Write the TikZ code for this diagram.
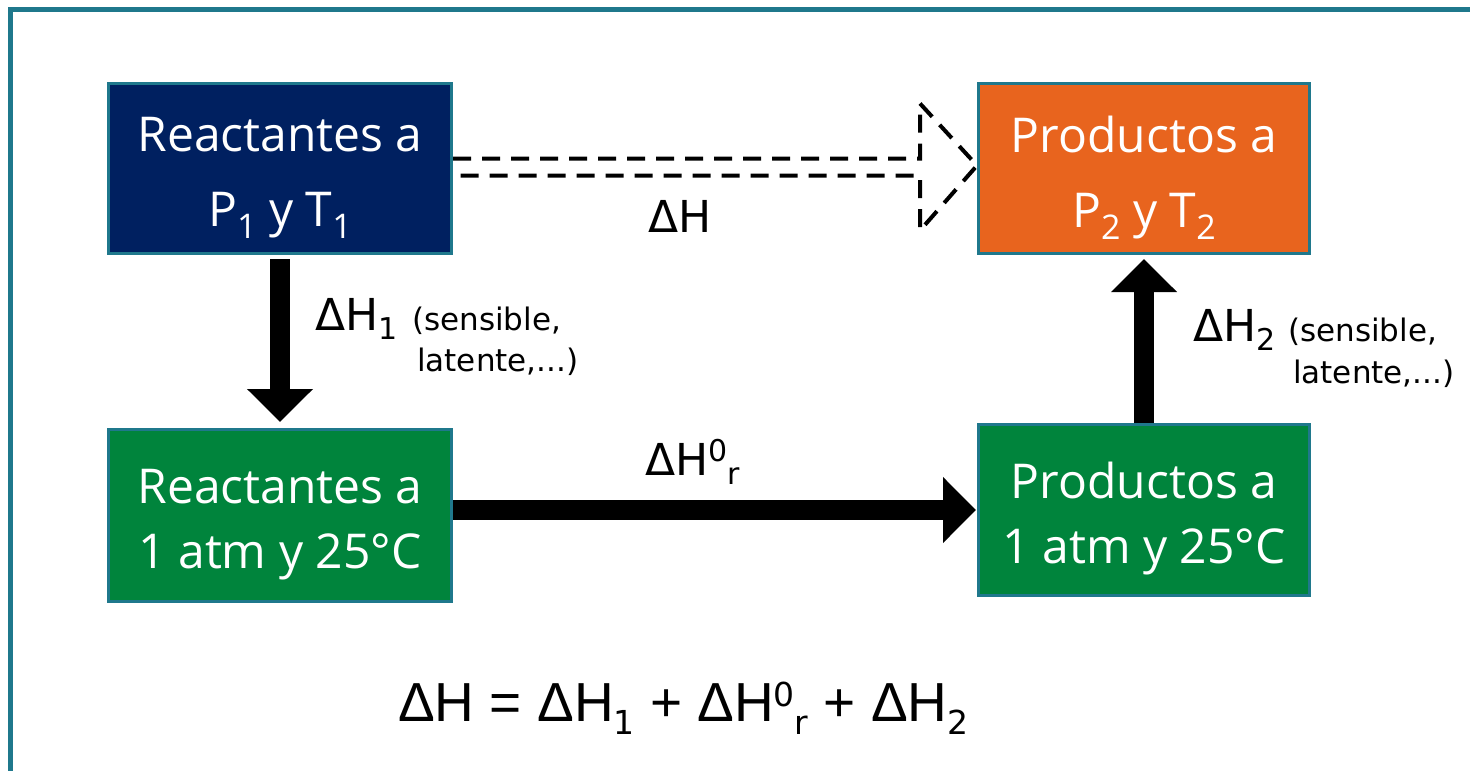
\documentclass[tikz,border=0pt]{standalone}
\usepackage{fontspec}
\setmainfont{DejaVu Sans}
\newfontfamily\boxfont{Open Sans}
\newfontfamily\eqfont{Liberation Sans}
\usetikzlibrary{arrows.meta,calc}
\definecolor{frameteal}{RGB}{31,120,140}
\definecolor{navybox}{RGB}{0,32,96}
\definecolor{orangebox}{RGB}{232,100,30}
\definecolor{greenbox}{RGB}{0,132,60}
\newcommand\shiftscript[3]{\raisebox{#1}{\fontsize{#2}{#2}\selectfont #3}}
\newcommand\eqscript[2]{\raisebox{#1}{\fontsize{33}{33}\selectfont\rmfamily #2}}
\begin{document}
\begin{tikzpicture}[x=1pt,y=-1pt,
  stagebox/.style={draw=frameteal, line width=3pt, inner sep=0pt},
  boxtext/.style={text=white, align=center, inner sep=0pt,
    font=\boxfont\fontsize{48}{65}\selectfont, yshift=-9pt},
  bigarrow/.style={draw=black, line width=20pt, -{Triangle[width=64pt,length=33pt]}},
  dasharrow/.style={draw=black, line width=4pt, dash pattern=on 18pt off 11pt},
  biglabel/.style={inner sep=0pt, font=\fontsize{44}{50}\selectfont},
  smalllabel/.style={inner sep=0pt, font=\fontsize{31}{36}\selectfont},
  eqlabel/.style={inner sep=0pt, font=\eqfont\fontsize{55}{60}\selectfont}
]
\useasboundingbox (0,0) rectangle (1470,771);
\clip (0,0) rectangle (1470,771);
\fill[white] (0,0) rectangle (1470,771);
\draw[frameteal, line width=5pt] (10.5,9.5) rectangle (1500,800);

\node[stagebox, fill=navybox, minimum width=343pt, minimum height=170pt,
  label={[boxtext]center:{Reactantes a\\[10pt]P\shiftscript{-12pt}{34}{1} y T\shiftscript{-12pt}{34}{1}}}]
  (r1) at (280,168.5) {};
\node[stagebox, fill=orangebox, minimum width=331pt, minimum height=170pt,
  label={[boxtext]center:{Productos a\\[10pt]P\shiftscript{-12pt}{34}{2} y T\shiftscript{-12pt}{34}{2}}}]
  (p2) at (1144,168.5) {};
\node[stagebox, fill=greenbox, minimum width=343pt, minimum height=172pt,
  label={[boxtext]center:{Reactantes a\\1 atm y 25°C}}]
  (r3) at (280,515.5) {};
\node[stagebox, fill=greenbox, minimum width=331pt, minimum height=171pt,
  label={[boxtext]center:{Productos a\\1 atm y 25°C}}]
  (r4) at (1144,510) {};

% dashed hollow arrow
\coordinate (dtop) at ($(r1.east)+(0,-10)$);
\coordinate (dbot) at ($(r1.east)+(0,7)$);
\draw[dasharrow] (dtop) -- ($(p2.west)+(-57,-10)$) -- ($(p2.west)+(-57,-65)$) -- ($(p2.west)+(0,-3)$)
  -- ($(p2.west)+(-57,62)$) -- ($(p2.west)+(-57,7)$) -- (dbot);

\draw[bigarrow, shorten <=4pt, shorten >=6pt] (r1) -- (r3);
\draw[bigarrow, shorten >=1pt] (r3.east |- r4) -- (r4.west);
\draw[bigarrow, shorten >=4pt] (r4) -- (p2);

\node[biglabel, anchor=base] (dh) at (680,232) {ΔH};
\node[biglabel, anchor=base west] (dh0) at (645,475) {ΔH\shiftscript{14pt}{30}{0}\shiftscript{-9pt}{30}{r}};

\node[biglabel, anchor=base west] (dh1) at (315,330) {ΔH\shiftscript{-9pt}{30}{1}};
\node[smalllabel, anchor=base west] (dh1a) at (412,330) {(sensible,};
\node[smalllabel, anchor=base west] (dh1b) at (417,371) {latente,...)};

\node[biglabel, anchor=base west] (dh2) at (1193,341) {ΔH\shiftscript{-9pt}{30}{2}};
\node[smalllabel, anchor=base west] (dh2a) at (1288,341) {(sensible,};
\node[smalllabel, anchor=base west] (dh2b) at (1293,383) {latente,...)};

\node[eqlabel, anchor=base west] (eq) at (398,721)
  {ΔH = ΔH\eqscript{-13pt}{1} + ΔH\eqscript{15pt}{0}\eqscript{-13pt}{r} + ΔH\eqscript{-13pt}{2}};
\end{tikzpicture}
\end{document}
